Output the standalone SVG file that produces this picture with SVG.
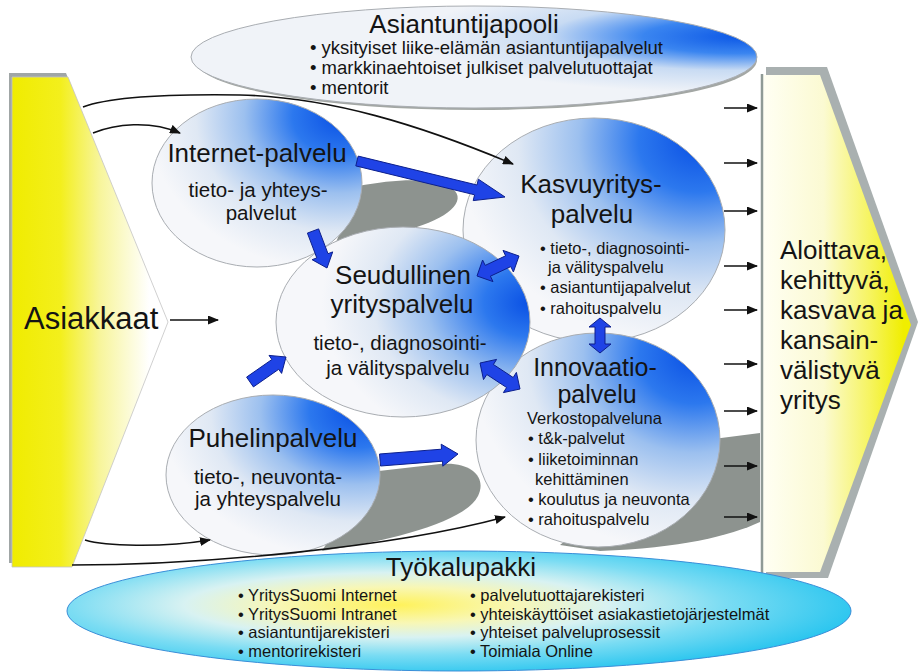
<svg xmlns="http://www.w3.org/2000/svg" width="918" height="672" viewBox="0 0 918 672">
<defs>
<linearGradient id="gLeft" gradientUnits="userSpaceOnUse" x1="12" y1="0" x2="168" y2="0">
<stop offset="0" stop-color="#f0ec00"/><stop offset="0.31" stop-color="#f3ef1c"/><stop offset="0.56" stop-color="#f7f59a"/><stop offset="0.88" stop-color="#ffffff"/></linearGradient>
<linearGradient id="gRight" gradientUnits="userSpaceOnUse" x1="762" y1="0" x2="916" y2="0">
<stop offset="0" stop-color="#fffff4"/><stop offset="0.4" stop-color="#fbfad2"/><stop offset="0.7" stop-color="#f6f460"/><stop offset="0.92" stop-color="#f0ee00"/></linearGradient>
<radialGradient id="gTR" cx="0.88" cy="0.12" r="0.9" fx="0.9" fy="0.1">
<stop offset="0" stop-color="#0a50e4"/><stop offset="0.25" stop-color="#2c78ee"/><stop offset="0.5" stop-color="#9cc0ef"/><stop offset="0.75" stop-color="#dfe8f4"/><stop offset="1" stop-color="#f6f7fa"/></radialGradient>
<radialGradient id="gR" cx="0.98" cy="0.4" r="0.8" fx="1" fy="0.4">
<stop offset="0" stop-color="#0a50e4"/><stop offset="0.22" stop-color="#2c78ee"/><stop offset="0.5" stop-color="#9cc0ef"/><stop offset="0.75" stop-color="#dfe8f4"/><stop offset="1" stop-color="#f6f7fa"/></radialGradient>
<radialGradient id="gPool" cx="0.95" cy="0.3" r="0.55" fx="0.97" fy="0.3">
<stop offset="0" stop-color="#0d58e6"/><stop offset="0.3" stop-color="#3a85f0"/><stop offset="0.6" stop-color="#c8dbf3"/><stop offset="1" stop-color="#f0f3f8"/></radialGradient>
<radialGradient id="gTool" cx="0.42" cy="0.45" r="0.6">
<stop offset="0" stop-color="#fff25a"/><stop offset="0.25" stop-color="#f8f7b5"/><stop offset="0.45" stop-color="#d8f2f2"/><stop offset="0.7" stop-color="#7adcf3"/><stop offset="1" stop-color="#28c5ef"/></radialGradient>
<marker id="ah" markerUnits="userSpaceOnUse" markerWidth="11" markerHeight="9" refX="10" refY="4.5" orient="auto">
<path d="M0,0 L11,4.5 L0,9 z" fill="#111"/></marker>
<style>
text{font-family:"Liberation Sans",Arial,sans-serif;fill:#141414}
.bub{stroke:#a9adb2;stroke-width:1}
.t26{font-size:26px;text-anchor:middle}
.t25{font-size:25px;text-anchor:middle}
.sub{font-size:20.5px;text-anchor:middle}
.pb{font-size:18.5px}
.nb{font-size:16.5px}
.tb{font-size:16.5px}
.shadow{fill:#8d938f}
.thin{fill:none;stroke:#111;stroke-width:1.6;marker-end:url(#ah)}
.blk{fill:#1f43e6;stroke:#0c1f8c;stroke-width:1;stroke-linejoin:round}
</style>
</defs>
<rect width="918" height="672" fill="#ffffff"/>

<g id="asiakkaat">
<polygon points="9,73 66,73 165,320 69,563 9,563" fill="#a0a6a6"/>
<polygon points="12,77 68,77 168,322 72,567 12,567" fill="url(#gLeft)" stroke="#c4c4c4" stroke-width="0.8"/>
<text x="24" y="329" font-size="31">Asiakkaat</text>
</g>

<g id="yritys">
<polygon points="766,67 827,67 918,322 828,578 766,578" fill="#a9b0b0"/>
<polygon points="762,75 820,75 911,325 820,572 762,572" fill="url(#gRight)"/>
<line x1="762" y1="74" x2="762" y2="573" stroke="#8f9a96" stroke-width="2.5"/>
<text x="780" y="259" font-size="26">Aloittava,</text>
<text x="780" y="289" font-size="26">kehittyvä,</text>
<text x="780" y="319" font-size="26">kasvava ja</text>
<text x="780" y="349" font-size="26">kansain-</text>
<text x="780" y="379" font-size="26">välistyvä</text>
<text x="780" y="409" font-size="26">yritys</text>
</g>

<g id="shadows">
<ellipse cx="476" cy="60" rx="281" ry="50" fill="#a3a7a4"/>
<path d="M335 245 L358 186 C400 178,440 177,455 191 C466 204,442 222,402 231 C372 238,350 243,335 245 Z" class="shadow"/>
<path d="M322 551 L370 472 L440 464 C472 461,487 478,478 496 C465 521,400 539,322 551 Z" class="shadow"/>
<path d="M560 545 L690 442 L760 433 L760 522 C730 536,680 548,600 551 Z" class="shadow"/>
</g>

<g id="asiantuntijapooli">
<ellipse cx="474" cy="57" rx="283" ry="51" fill="url(#gPool)" class="bub"/>
<text x="464" y="33" class="t26">Asiantuntijapooli</text>
<text x="310" y="54" class="pb">• yksityiset liike-elämän asiantuntijapalvelut</text>
<text x="310" y="74" class="pb">• markkinaehtoiset julkiset palvelutuottajat</text>
<text x="310" y="94" class="pb">• mentorit</text>
</g>

<g id="kasvuyritys">
<ellipse cx="594" cy="230" rx="131" ry="112" fill="url(#gTR)" class="bub"/>
<text x="591" y="193" class="t26">Kasvuyritys-</text>
<text x="592" y="223" class="t26">palvelu</text>
<text x="540" y="254" class="nb">• tieto-, diagnosointi-</text>
<text x="548" y="273" class="nb">ja välityspalvelu</text>
<text x="540" y="293" class="nb">• asiantuntijapalvelut</text>
<text x="540" y="314" class="nb">• rahoituspalvelu</text>
</g>

<g id="innovaatio">
<ellipse cx="598" cy="440" rx="122" ry="107" fill="url(#gTR)" class="bub"/>
<text x="595" y="376" class="t25">Innovaatio-</text>
<text x="597" y="403" class="t25">palvelu</text>
<text x="527" y="424" class="nb">Verkostopalveluna</text>
<text x="528" y="444" class="nb">• t&amp;k-palvelut</text>
<text x="528" y="465" class="nb">• liiketoiminnan</text>
<text x="535" y="485" class="nb">kehittäminen</text>
<text x="528" y="505" class="nb">• koulutus ja neuvonta</text>
<text x="528" y="525" class="nb">• rahoituspalvelu</text>
</g>

<g id="internet">
<ellipse cx="257" cy="183" rx="105" ry="84" fill="url(#gTR)" class="bub"/>
<text x="257" y="162" class="t26">Internet-palvelu</text>
<text x="258" y="197" class="sub">tieto- ja yhteys-</text>
<text x="261" y="220" class="sub">palvelut</text>
</g>

<g id="puhelin">
<ellipse cx="273" cy="475" rx="107" ry="80" fill="url(#gTR)" class="bub"/>
<text x="273" y="447" class="t26">Puhelinpalvelu</text>
<text x="268" y="484" class="sub">tieto-, neuvonta-</text>
<text x="268" y="506" class="sub">ja yhteyspalvelu</text>
</g>

<g id="seudullinen">
<ellipse cx="403" cy="322" rx="127" ry="95" fill="url(#gR)" class="bub"/>
<text x="403" y="284" class="t26">Seudullinen</text>
<text x="402" y="313" class="t26">yrityspalvelu</text>
<text x="400" y="350" class="sub">tieto-, diagnosointi-</text>
<text x="398" y="375" class="sub">ja välityspalvelu</text>
</g>

<g id="tyokalupakki">
<ellipse cx="459" cy="611" rx="392" ry="60" fill="url(#gTool)" stroke="#3a8ed8" stroke-width="1"/>
<text x="461" y="576" class="t26">Työkalupakki</text>
<text x="238" y="601" class="tb">• YritysSuomi Internet</text>
<text x="238" y="620" class="tb">• YritysSuomi Intranet</text>
<text x="238" y="638" class="tb">• asiantuntijarekisteri</text>
<text x="238" y="657" class="tb">• mentorirekisteri</text>
<text x="470" y="601" class="tb">• palvelutuottajarekisteri</text>
<text x="470" y="620" class="tb">• yhteiskäyttöiset asiakastietojärjestelmät</text>
<text x="470" y="638" class="tb">• yhteiset palveluprosessit</text>
<text x="470" y="657" class="tb">• Toimiala Online</text>
</g>

<g id="connectors">
<path class="thin" d="M83 107 C110 97,170 94,240 95 C330 97,420 125,513 164"/>
<path class="thin" d="M93 133 C115 124,150 120,180 133"/>
<path class="thin" d="M170 320 L218 320"/>
<path class="thin" d="M85 540 C105 546,160 548,210 540"/>
<path class="thin" d="M72 565 C200 565,390 548,505 517"/>
<path class="thin" d="M724 108 H757"/>
<path class="thin" d="M724 163 H757"/>
<path class="thin" d="M724 211 H757"/>
<path class="thin" d="M724 266 H757"/>
<path class="thin" d="M724 310 H757"/>
<path class="thin" d="M724 364 H757"/>
<path class="thin" d="M724 411 H757"/>
<path class="thin" d="M724 466 H757"/>
<path class="thin" d="M724 517 H757"/>
<polygon class="blk" points="358.2,156.1 477,185 478.4,179.2 505,197 473.2,200.6 474.6,194.8 355.8,165.9"/>
<polygon class="blk" points="318.6,228.9 328,253.7 332.7,251.9 327,268 312.1,259.7 316.8,257.9 307.4,233.1"/>
<polygon class="blk" points="477,276 493,281.6 490.4,276.2 510.8,266.6 513.4,272 519,256 503,250.4 505.6,255.8 485.2,265.4 482.6,260"/>
<polygon class="blk" points="480,363 483.5,379.6 486.8,374.5 506.6,387.5 503.4,392.6 520,389 516.4,372.4 513.2,377.5 493.4,364.5 496.6,359.4"/>
<polygon class="blk" points="600,318 611,327 605,327 605,344 611,344 600,353 589,344 595,344 595,327 589,327"/>
<polygon class="blk" points="253.4,386.9 278.7,369.3 281.6,373.4 286,357 269,355.4 271.9,359.5 246.6,377.1"/>
<polygon class="blk" points="380.5,466 442.5,461.2 442.8,466.2 458,454 441.2,444.2 441.5,449.2 379.5,454"/>
</g>
</svg>
